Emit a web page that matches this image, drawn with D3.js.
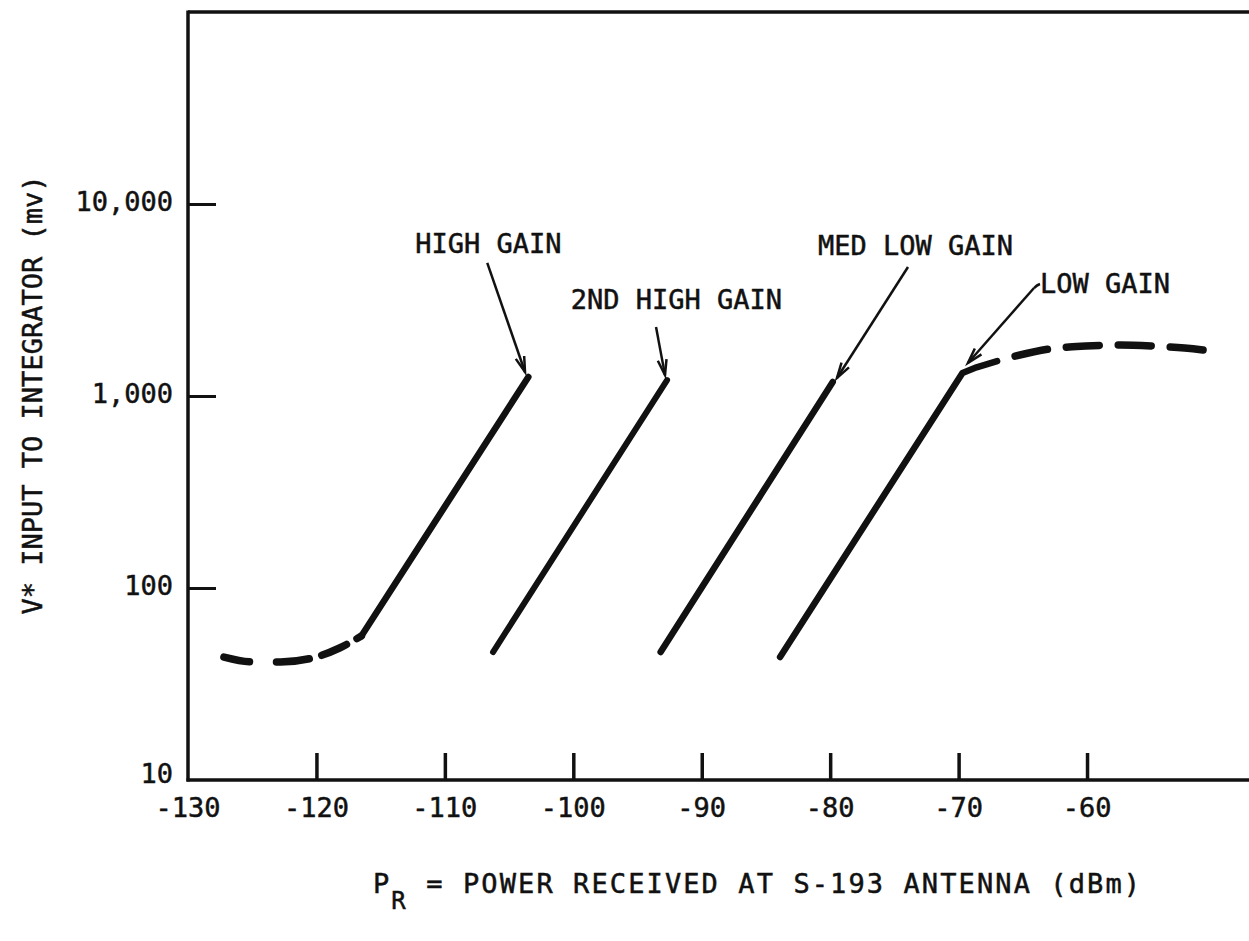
<!DOCTYPE html>
<html>
<head>
<meta charset="utf-8">
<script src="https://cdn.jsdelivr.net/npm/d3@7"></script>
<style>
  html, body { margin: 0; padding: 0; background: #fff; }
  svg { display: block; }
  text { font-family: "DejaVu Sans Mono", monospace; fill: #111; stroke: #111; stroke-width: 0.5; }
</style>
</head>
<body>
<svg id="chart" width="1249" height="941"></svg>
<script>
// Axis ticks
const xTicks = [-130, -120, -110, -100, -90, -80, -70, -60];
const yTicks = [10, 100, 1000, 10000];
const yTickLabels = ["10", "100", "1,000", "10,000"];

// Gain-range curves: [dBm, mV]
const highGainDashed = [[-127.2, 43.7], [-124.9, 41.2], [-122.8, 41.2], [-120.3, 43.2], [-118.2, 48.7], [-116.5, 56.2]];
const highGainSolid = [[-116.5, 56.2], [-103.5, 1256]];
const secondHighSolid = [[-106.25, 46.4], [-92.7, 1211]];
const medLowSolid = [[-93.2, 46.4], [-79.8, 1183]];
const lowGainSolid = [[-83.9, 43.7], [-69.7, 1319], [-68.6, 1410], [-67.0, 1520]];
const lowGainDashed = [[-65.6, 1614], [-62.9, 1758], [-60.1, 1820], [-57.4, 1845], [-54.8, 1820], [-52.4, 1778], [-50.3, 1715]];

// Curve labels with their leader arrows: label anchor, arrow tail, arrow tip
const labelNames = ["HIGH GAIN", "2ND HIGH GAIN", "MED LOW GAIN", "LOW GAIN"];
const labelAt = [[-112.3, 5560], [-100.2, 2838], [-80.95, 5420], [-63.66, 3436]];
const arrowFrom = [[-106.7, 4932], [-93.56, 2286], [-73.94, 4699], [-64.13, 3651]];
const arrowTo = [[-103.76, 1334], [-92.86, 1285], [-79.47, 1241], [-69.27, 1486]];

const svg = d3.select("#chart");
const x = d3.scaleLinear().domain([-130, -47]).range([188, 1254]);
const y = d3.scaleLog().domain([10, 100000]).range([780, 12]);

const ink = "#111";

// Frame: top edge, left axis, bottom axis
svg.append("line").attr("x1", x(-130)).attr("x2", x(-47)).attr("y1", y(100000)).attr("y2", y(100000))
  .attr("stroke", ink).attr("stroke-width", 3.5);

const yAxis = d3.axisRight(y).tickValues(yTicks.slice(1)).tickSize(28).tickFormat("");
svg.append("g").attr("transform", `translate(${x(-130)},0)`).call(yAxis)
  .call(g => g.select(".domain").remove())
  .call(g => g.selectAll(".tick line").attr("stroke", ink).attr("stroke-width", 3));
svg.append("line").attr("x1", x(-130)).attr("x2", x(-130)).attr("y1", y(100000) - 1.5).attr("y2", y(10) + 1.5)
  .attr("stroke", ink).attr("stroke-width", 3.5);

const xAxis = d3.axisTop(x).tickValues(xTicks.slice(1)).tickSize(27).tickFormat("");
svg.append("g").attr("transform", `translate(0,${y(10)})`).call(xAxis)
  .call(g => g.select(".domain").remove())
  .call(g => g.selectAll(".tick line").attr("stroke", ink).attr("stroke-width", 3.5));
svg.append("line").attr("x1", x(-130) - 1.5).attr("x2", x(-47)).attr("y1", y(10)).attr("y2", y(10))
  .attr("stroke", ink).attr("stroke-width", 3.5);

// Tick labels
svg.append("g").selectAll("text").data(yTicks).join("text")
  .attr("x", 173).attr("y", d => d === 10 ? y(d) + 3 : y(d) + 7)
  .attr("text-anchor", "end").attr("font-size", 27)
  .text((d, i) => yTickLabels[i]);

svg.append("g").selectAll("text").data(xTicks).join("text")
  .attr("x", d => x(d)).attr("y", y(10) + 37)
  .attr("text-anchor", "middle").attr("font-size", 27)
  .text(d => "-" + Math.abs(d));

// Axis titles
svg.append("text")
  .attr("transform", `translate(42,395) rotate(-90)`)
  .attr("text-anchor", "middle").attr("font-size", 27)
  .text("V* INPUT TO INTEGRATOR  (mv)");

const xt = svg.append("text").attr("x", 373).attr("y", 893).attr("font-size", 27).attr("letter-spacing", 2.1);
xt.append("tspan").text("P");
xt.append("tspan").attr("dy", 16).attr("font-size", 24).text("R");
xt.append("tspan").attr("dy", -16).text(" = POWER RECEIVED AT S-193 ANTENNA (dBm)");

// Curves
const line = d3.line().x(d => x(d[0])).y(d => y(d[1]));
const smooth = d3.line().x(d => x(d[0])).y(d => y(d[1])).curve(d3.curveMonotoneX);

function solid(data, w) {
  svg.append("path").attr("d", line(data)).attr("fill", "none")
    .attr("stroke", ink).attr("stroke-width", w).attr("stroke-linecap", "round").attr("stroke-linejoin", "round");
}
function dashed(data, dash) {
  svg.append("path").attr("d", smooth(data)).attr("fill", "none")
    .attr("stroke", ink).attr("stroke-width", 7.5).attr("stroke-linecap", "round")
    .attr("stroke-dasharray", dash);
}

dashed(highGainDashed, "26,27,33,13,27,12,20");
solid(highGainSolid, 6.5);
solid(secondHighSolid, 6);
solid(medLowSolid, 6.5);
solid(lowGainSolid, 6.5);
dashed(lowGainDashed, "33,19");

// Labels and leader arrows
svg.append("g").selectAll("text").data(labelNames).join("text")
  .attr("x", (d, i) => x(labelAt[i][0])).attr("y", (d, i) => y(labelAt[i][1]))
  .attr("font-size", 27).text(d => d);

labelNames.forEach((name, i) => {
  const x0 = x(arrowFrom[i][0]), y0 = y(arrowFrom[i][1]);
  const x1 = x(arrowTo[i][0]), y1 = y(arrowTo[i][1]);
  svg.append("line").attr("x1", x0).attr("y1", y0).attr("x2", x1).attr("y2", y1)
    .attr("stroke", ink).attr("stroke-width", 2.5);
  const ang = Math.atan2(y1 - y0, x1 - x0);
  const len = 16, spread = 0.28;
  const pts = [
    [x1 - len * Math.cos(ang - spread), y1 - len * Math.sin(ang - spread)],
    [x1, y1],
    [x1 - len * Math.cos(ang + spread), y1 - len * Math.sin(ang + spread)]
  ];
  svg.append("path").attr("d", d3.line()(pts)).attr("fill", "none")
    .attr("stroke", ink).attr("stroke-width", 2.5).attr("stroke-linejoin", "miter");
});

// small hook joining the LOW GAIN label to its arrow
const hk = [x(arrowFrom[3][0]), y(arrowFrom[3][1])];
svg.append("path").attr("d", `M${hk[0]},${hk[1]} q3,-3 6,-4`).attr("fill", "none")
  .attr("stroke", ink).attr("stroke-width", 2.5);
</script>
</body>
</html>
